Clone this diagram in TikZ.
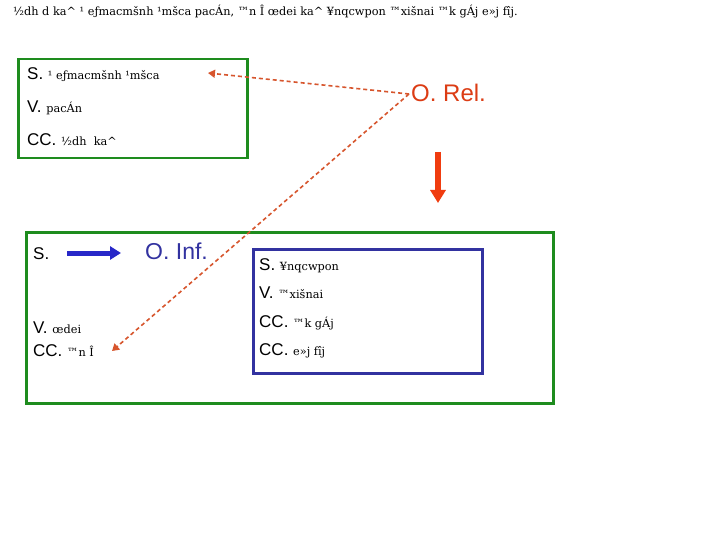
\documentclass[tikz,border=0pt]{standalone}
\usepackage{fontspec}
\setmainfont{Liberation Sans}
\newfontfamily\gkfont{DejaVu Serif}
\usetikzlibrary{arrows.meta}
\definecolor{grn}{RGB}{30,140,30}
\definecolor{bluebox}{RGB}{50,50,160}
\definecolor{bluearr}{RGB}{40,40,200}
\definecolor{relred}{RGB}{220,60,20}
\definecolor{arrred}{RGB}{240,60,15}
\definecolor{dashred}{RGB}{215,85,45}
\tikzset{
  lab/.style={anchor=base west, inner sep=0pt, font=\fontsize{17}{20}\selectfont},
  gk/.style={font=\gkfont\fontsize{11.3}{13}\selectfont},
  greenbox/.style={draw=grn, line width=2.5pt, anchor=north west, inner sep=0pt},
  bluebx/.style={draw=bluebox, line width=2.5pt, anchor=north west, inner sep=0pt},
  dasharr/.style={draw=dashred, line width=1.6pt, dash pattern=on 4pt off 3pt, -{Triangle[width=8pt,length=7pt]}},
}
\newcommand{\gt}[1]{{\gkfont\fontsize{11.3}{13}\selectfont #1}}
\begin{document}
\begin{tikzpicture}[x=1pt,y=-1pt]
\useasboundingbox (0,0) rectangle (720,540);
\fill[white] (0,0) rectangle (720,540);

% title
\node[anchor=base west, inner sep=0pt, gk] (title) at (13,16) {½dh d ka\^{} ¹ eƒmacmšnh ¹mšca pacÁn, ™n Î œdei ka\^{} ¥nqcwpon ™xišnai ™k gÁj e»j fîj.};

% top box
\node[greenbox, minimum width=229pt, minimum height=99pt] (topbox) at (17,58) {};
\node[lab] (s1) at (27,80) {S. \gt{¹ eƒmacmšnh ¹mšca}};
\node[lab] (v1) at (27,113) {V. \gt{pacÁn}};
\node[lab] (cc1) at (27,146) {CC. \gt{½dh \ ka\^{}}};

% lower box
\node[greenbox, minimum width=527pt, minimum height=171pt] (lowbox) at (25,231) {};
\node[lab] (s2) at (33,259) {S.};
\node[lab, text=bluebox, font=\fontsize{23}{27}\selectfont] (oinf) at (145,259) {O. Inf.};
\node[lab] (v2) at (33,333) {V. \gt{œdei}};
\node[lab] (cc2) at (33,356) {CC. \gt{™n Î}};
\coordinate (ba) at (67,253);
\coordinate (bb) at (121,253);
\draw[bluearr, line width=5pt, -{Triangle[width=13pt,length=11pt]}] (ba) -- (bb);

% blue box
\node[bluebx, minimum width=229pt, minimum height=124pt] (bluebox) at (252,248) {};
\node[lab] (s3) at (259,270) {S. \gt{¥nqcwpon}};
\node[lab] (v3) at (259,298) {V. \gt{™xišnai}};
\node[lab] (cc3) at (259,327) {CC. \gt{™k gÁj}};
\node[lab] (cc4) at (259,355) {CC. \gt{e»j fîj}};

% O. Rel.
\node[lab, text=relred, font=\fontsize{24}{28}\selectfont] (orel) at (411,102) {O. Rel.};
\coordinate (dstart) at (409,94);
\coordinate (t1) at (208,73);
\coordinate (t2) at (112,351);
\draw[dasharr] (dstart) -- (t1);
\draw[dasharr] (dstart) -- (t2);

% red arrow
\coordinate (ra) at (438,152);
\coordinate (rb) at (438,203);
\draw[arrred, line width=6pt, -{Triangle[width=15pt,length=13pt]}] (ra) -- (rb);
\end{tikzpicture}
\end{document}
